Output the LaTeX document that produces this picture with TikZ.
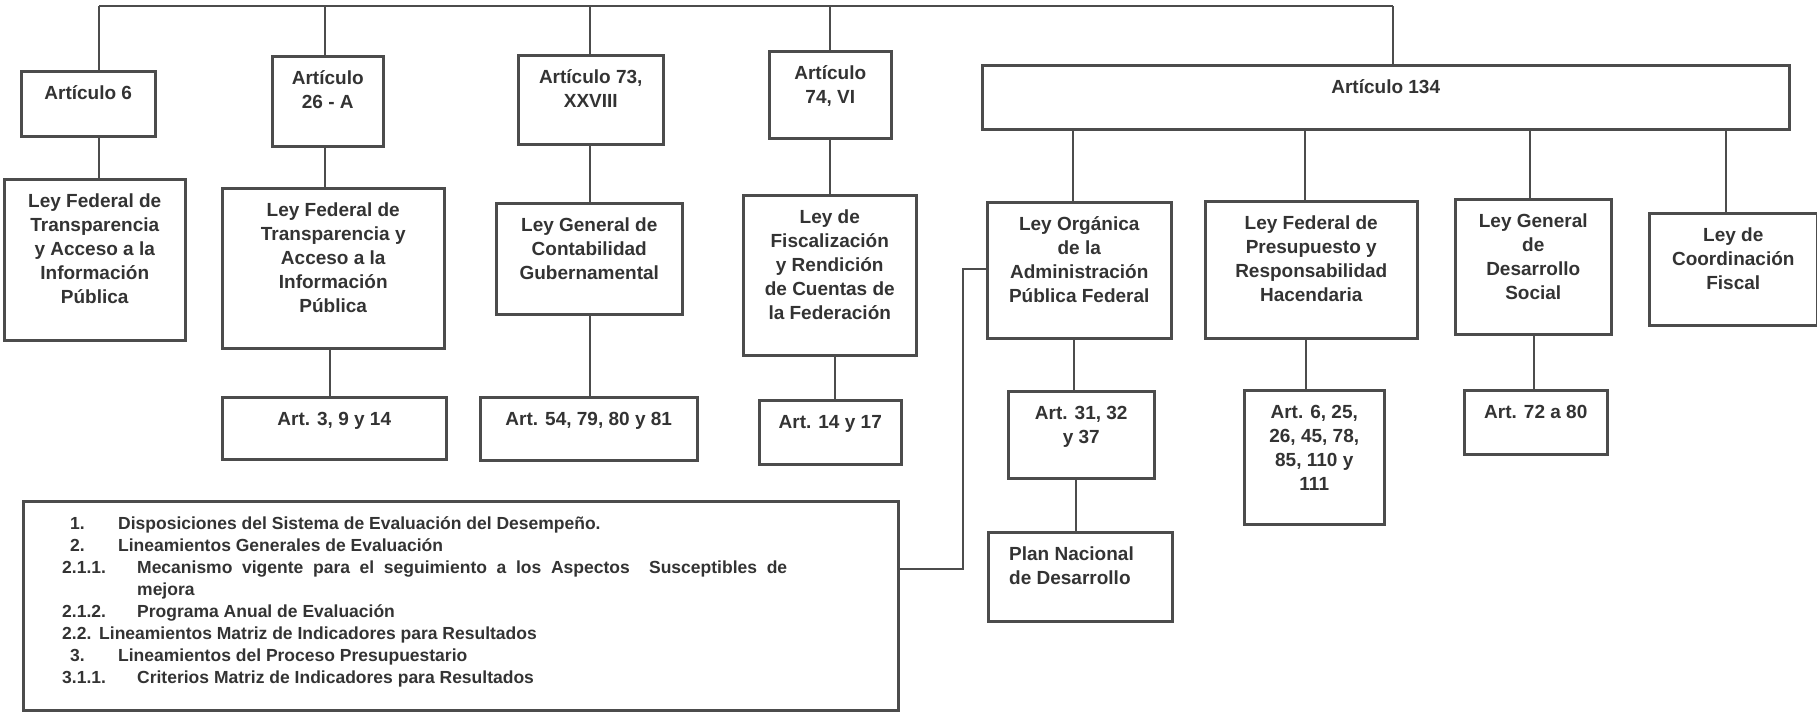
\documentclass[tikz,border=0pt]{standalone}
\usepackage{fontspec}
\setmainfont{Liberation Sans}
\usetikzlibrary{calc}
\definecolor{ln}{HTML}{4C4C4C}
\definecolor{tx}{HTML}{333333}
\tikzset{
  box/.style={draw=ln, line width=2.5pt, rectangle, inner sep=0pt, anchor=north west},
  txt/.style={text=tx, font=\bfseries\fontsize{19}{24}\selectfont, align=center, inner sep=0pt, anchor=north},
  listtxt/.style={text=tx, font=\bfseries\fontsize{17.5}{22}\selectfont, align=left, inner sep=0pt, anchor=north west},
  conn/.style={draw=ln, line width=2pt},
}
\newcommand\bx[6]{%
  \node[box, minimum width=#4pt, minimum height=#5pt] (#1) at (#2,#3) {};
  \node[txt] (#1t) at ([yshift=-12pt]#1.north) {\strut#6};
}
\begin{document}
\begin{tikzpicture}[x=1pt,y=-1pt]
\useasboundingbox (0,0) rectangle (1817,713);
% articles
\bx{A6}{20}{70}{134}{65}{Artículo 6}
\bx{A26}{271}{55}{111}{90}{Artículo\\26 - A}
\bx{A73}{517}{54}{145}{89}{Artículo 73,\\XXVIII}
\bx{A74}{768}{50}{122}{87}{Artículo\\74, VI}
\bx{A134}{981}{64}{807}{64}{Artículo 134}
% laws
\bx{L1}{3}{178}{181}{161}{Ley Federal de\\Transparencia\\y Acceso a la\\Información\\Pública}
\bx{L2}{221}{187}{222}{160}{Ley Federal de\\Transparencia y\\Acceso a la\\Información\\Pública}
\bx{L3}{495}{202}{186}{111}{Ley General de\\Contabilidad\\Gubernamental}
\bx{L4}{742}{194}{173}{160}{Ley de\\Fiscalización\\y Rendición\\de Cuentas de\\la Federación}
\bx{L5}{986}{201}{184}{136}{Ley Orgánica\\de la\\Administración\\Pública Federal}
\bx{L6}{1204}{200}{212}{137}{Ley Federal de\\Presupuesto y\\Responsabilidad\\Hacendaria}
\bx{L7}{1454}{198}{156}{135}{Ley General\\de\\Desarrollo\\Social}
\bx{L8}{1648}{212}{168}{112}{Ley de\\Coordinación\\Fiscal}
% article lists
\bx{B2}{221}{396}{224}{62}{Art. 3, 9 y 14}
\bx{B3}{479}{396}{217}{63}{Art. 54, 79, 80 y 81}
\bx{B4}{758}{399}{142}{64}{Art. 14 y 17}
\bx{B5}{1007}{390}{146}{87}{Art. 31, 32\\y 37}
\bx{B6}{1243}{389}{140}{134}{Art. 6, 25,\\26, 45, 78,\\85, 110 y\\111}
\bx{B7}{1463}{389}{143}{64}{Art. 72 a 80}
% plan nacional
\node[box, minimum width=184pt, minimum height=89pt] (PN) at (987,531) {};
\node[txt, align=left, anchor=north west] (PNt) at ([xshift=22pt,yshift=-12pt]PN.north west) {\strut Plan Nacional\\de Desarrollo};
% list
\node[box, minimum width=875pt, minimum height=209pt] (LIST) at (22,500) {};
\node[listtxt] (LISTt) at ([xshift=40pt,yshift=-13.6pt]LIST.north west) {%
\strut\hspace*{8pt}\makebox[48pt][l]{1.}Disposiciones del Sistema de Evaluación del Desempeño.\\
\hspace*{8pt}\makebox[48pt][l]{2.}Lineamientos Generales de Evaluación\\
\makebox[75pt][l]{2.1.1.}\makebox[650pt][s]{Mecanismo vigente para el seguimiento a los Aspectos\ \ Susceptibles de}\\
\hspace*{75pt}mejora\\
\makebox[75pt][l]{2.1.2.}Programa Anual de Evaluación\\
\makebox[37pt][l]{2.2.}Lineamientos Matriz de Indicadores para Resultados\\
\hspace*{8pt}\makebox[48pt][l]{3.}Lineamientos del Proceso Presupuestario\\
\makebox[75pt][l]{3.1.1.}Criterios Matriz de Indicadores para Resultados};
% drop x positions
\coordinate (top) at (0,6);
\coordinate (d6) at (99,0);
\coordinate (d26) at (325,0);
\coordinate (d2b) at (330,0);
\coordinate (d73) at (590,0);
\coordinate (d74) at (830,0);
\coordinate (d4b) at (835,0);
\coordinate (dR) at (1393,0);
\coordinate (d5) at (1073,0);
\coordinate (d5b) at (1074,0);
\coordinate (dpn) at (1076,0);
\coordinate (d6l) at (1305,0);
\coordinate (d6b) at (1306,0);
\coordinate (d7) at (1530,0);
\coordinate (d7b) at (1534,0);
\coordinate (d8) at (1726,0);
\coordinate (sx) at (963,0);
\coordinate (sy) at (0,269);
\coordinate (ly) at (0,569);
% top bus
\draw[conn] (d6 |- top) -- (dR |- top);
\draw[conn] (d6 |- top) -- (d6 |- A6.north);
\draw[conn] (d26 |- top) -- (d26 |- A26.north);
\draw[conn] (d73 |- top) -- (d73 |- A73.north);
\draw[conn] (d74 |- top) -- (d74 |- A74.north);
\draw[conn] (dR |- top) -- (dR |- A134.north);
% article -> law
\draw[conn] (d6 |- A6.south) -- (d6 |- L1.north);
\draw[conn] (d26 |- A26.south) -- (d26 |- L2.north);
\draw[conn] (d73 |- A73.south) -- (d73 |- L3.north);
\draw[conn] (d74 |- A74.south) -- (d74 |- L4.north);
\draw[conn] (d5 |- A134.south) -- (d5 |- L5.north);
\draw[conn] (d6l |- A134.south) -- (d6l |- L6.north);
\draw[conn] (d7 |- A134.south) -- (d7 |- L7.north);
\draw[conn] (d8 |- A134.south) -- (d8 |- L8.north);
% law -> articles
\draw[conn] (d2b |- L2.south) -- (d2b |- B2.north);
\draw[conn] (d73 |- L3.south) -- (d73 |- B3.north);
\draw[conn] (d4b |- L4.south) -- (d4b |- B4.north);
\draw[conn] (d5b |- L5.south) -- (d5b |- B5.north);
\draw[conn] (d6b |- L6.south) -- (d6b |- B6.north);
\draw[conn] (d7b |- L7.south) -- (d7b |- B7.north);
\draw[conn] (dpn |- B5.south) -- (dpn |- PN.north);
% side connector to list
\draw[conn] (L5.west |- sy) -- (sx |- sy) -- (sx |- ly) -- (LIST.east |- ly);
\end{tikzpicture}
\end{document}
